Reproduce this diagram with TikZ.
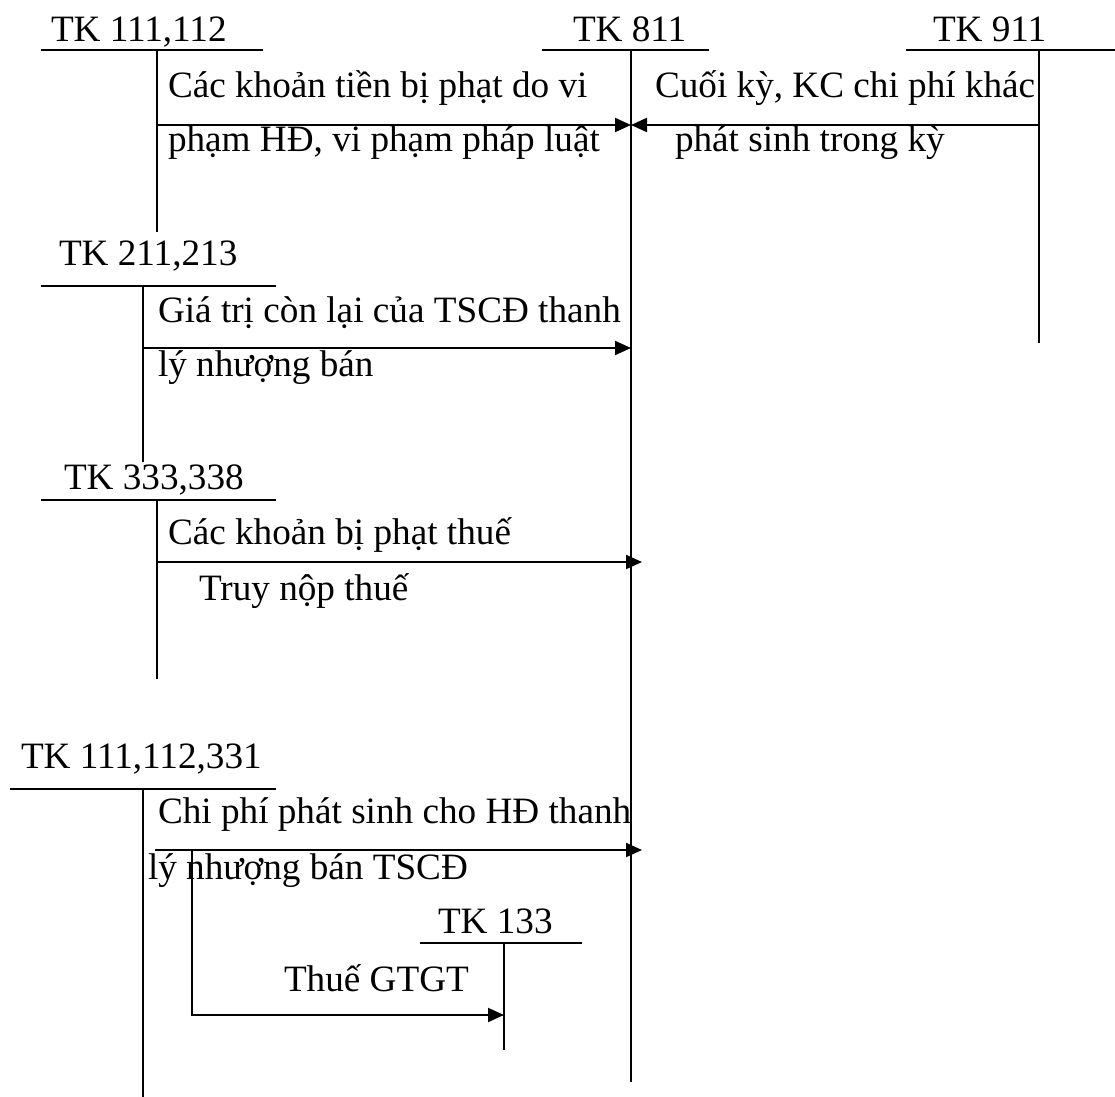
\documentclass[tikz,border=0pt]{standalone}
\usepackage{fontspec}
\setmainfont{Liberation Serif}
\usetikzlibrary{arrows.meta}
\tikzset{
  every picture/.style={line width=1pt},
  acct/.style={anchor=base west, inner sep=0pt},
  txt/.style={anchor=base west, inner sep=0pt},
  arrow/.style={-{Triangle[length=8pt, width=7pt]}},
  past/.style={arrow, shorten >=-5.5pt},
}

\begin{document}
\begin{tikzpicture}[x=0.5pt, y=-0.5pt, every node/.append style={font=\fontsize{18.6}{22}\selectfont}]
  \useasboundingbox (0,0) rectangle (1115,1097);
  % T-accounts: name/label/text x/text y/left/right/line y/stem x/stem end
  \foreach \n/\lab/\tx/\ty/\l/\r/\ly/\vx/\vb in {
      a1112/{TK 111,112}/50/42/41/263/50/157/232,
      a811/{TK 811}/572/42/542/709/50/631/1082,
      a911/{TK 911}/932/42/906/1115/50/1039/343,
      a211/{TK 211,213}/58/265/41/276/286/143/462,
      a333/{TK 333,338}/63/489/41/276/500/157/679,
      a331/{TK 111,112,331}/20/768/10/276/789/143/1097,
      a133/{TK 133}/437/933/420/582/943/504/1050} {
    \node[acct] (\n) at (\tx,\ty) {\lab};
    \coordinate (\n v) at (\vx,\ly);
    \draw (\l,\ly) -- (\r,\ly);
    \draw (\n v) -- (\vx,\vb);
  }
  \node[txt] (phat1) at (167,98) {Các khoản tiền bị phạt do vi};
  \node[txt] (phat2) at (167,152) {phạm HĐ, vi phạm pháp luật};
  \node[txt] (kc1) at (654,98) {Cuối kỳ, KC chi phí khác};
  \node[txt] (kc2) at (674,152) {phát sinh trong kỳ};
  \node[txt] (gtcl1) at (157,322) {Giá trị còn lại của TSCĐ thanh};
  \node[txt] (gtcl2) at (157,376) {lý nhượng bán};
  \node[txt] (thue1) at (167,544) {Các khoản bị phạt thuế};
  \node[txt] (thue2) at (198,600) {Truy nộp thuế};
  \node[txt] (cp1) at (157,823) {Chi phí phát sinh cho HĐ thanh};
  \node[txt] (cp2) at (147,879) {lý nhượng bán TSCĐ};
  \node[txt] (gtgt) at (283,991) {Thuế GTGT};

  \draw[arrow] (a1112v |- 0,125) -- (a811v |- 0,125);
  \draw[arrow] (a911v |- 0,125) -- (a811v |- 0,125);
  \draw[arrow] (a211v |- 0,348) -- (a811v |- 0,348);
  \draw[past] (a333v |- 0,562) -- (a811v |- 0,562);
  \coordinate (cp) at (155,850);
  \coordinate (br) at (192,850);
  \draw[past] (cp) -- (a811v |- cp);
  \draw[arrow] (br) |- (a133v |- 0,1015);
\end{tikzpicture}
\end{document}
